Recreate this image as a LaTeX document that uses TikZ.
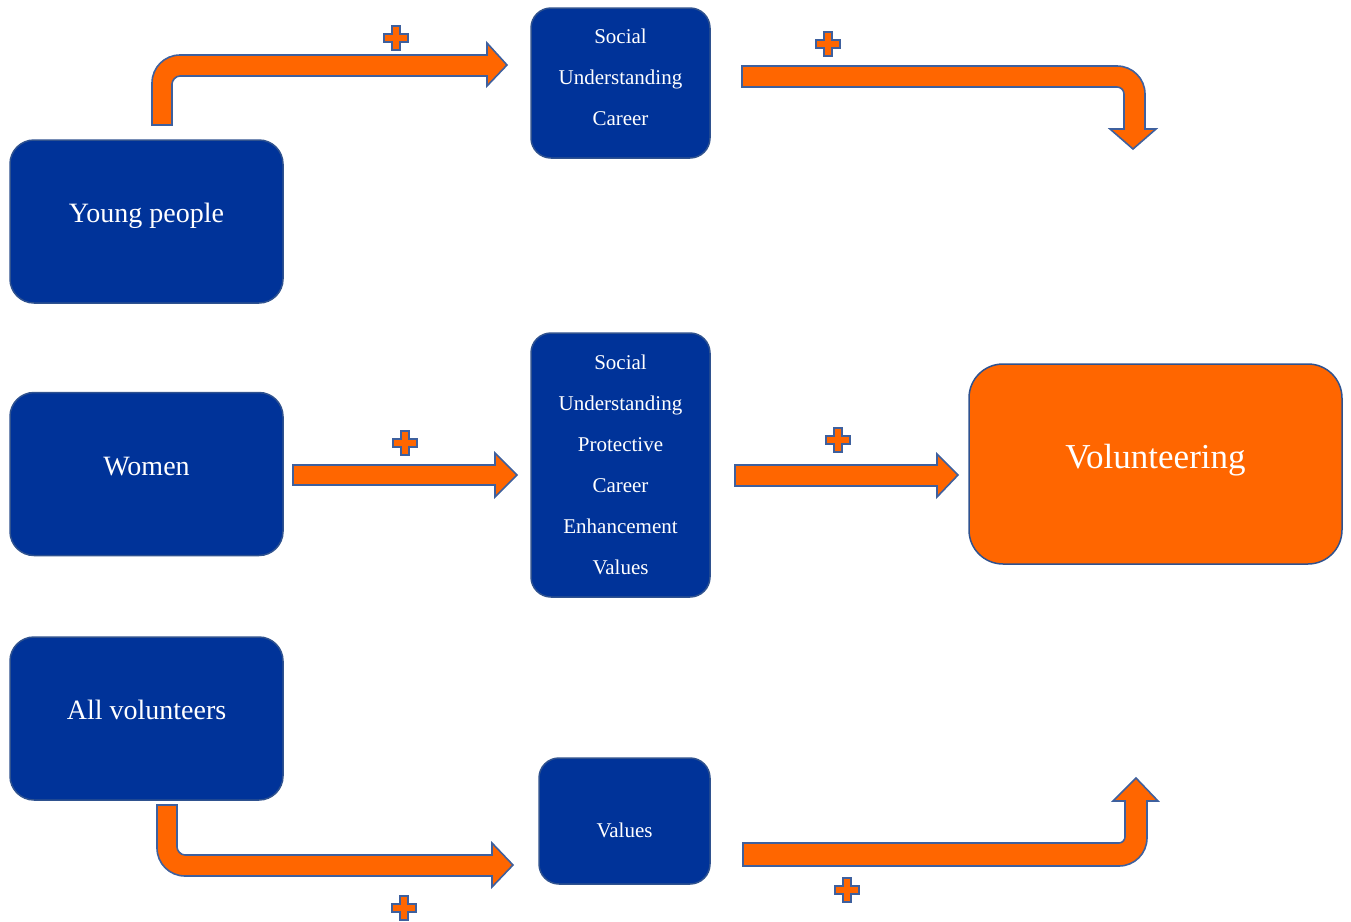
\documentclass[tikz,border=0pt]{standalone}
\usepackage{fontspec}
\setmainfont{Liberation Serif}
\definecolor{boxblue}{RGB}{0,51,153}
\definecolor{edgeblue}{RGB}{47,82,143}
\definecolor{arrowedge}{RGB}{62,96,158}
\definecolor{volorange}{RGB}{255,102,0}

\begin{document}
\begin{tikzpicture}[x=0.5pt,y=-0.5pt,
    group/.style={draw=edgeblue, line width=.75pt, fill=boxblue, rounded corners=12pt,
      text=white, font=\fontsize{14}{17}\selectfont, text height=6pt, text depth=4.6pt,
      minimum width=136.5pt, minimum height=81.5pt, inner sep=0pt},
    motive/.style={draw=edgeblue, line width=.75pt, fill=boxblue, rounded corners=10pt,
      text=white, align=center, font=\fontsize{10.5}{20.5}\selectfont,
      minimum width=89.5pt, inner sep=0pt},
    blockarrow/.style={draw=arrowedge, line width=.8pt, fill=volorange, line join=miter},
    plusmark/.style={draw=arrowedge, line width=.7pt, fill=volorange}]
    \useasboundingbox (0,0) rectangle (1351,922);
    % groups of volunteers
    \node[group] (young) at (146.5,221.5) {Young people};
    \node[group] (women) at (146.5,474) {Women};
    \node[group] (allvol) at (146.5,718.5) {All volunteers};
    % motives
    \node[motive, minimum height=75pt, text height=42pt, text depth=0pt] (motivestop)
      at (620.5,83) {Social\\Understanding\\Career};
    \node[motive, minimum height=132pt] (motivesmid) at (620.5,465)
      {Social\\Understanding\\Protective\\Career\\Enhancement\\Values};
    \node[motive, minimum width=85.5pt, minimum height=63pt, text height=16pt,
      text depth=0pt] (values) at (624.5,821) {Values};
    \node[draw=edgeblue, line width=.75pt, fill=volorange, rounded corners=17pt,
      text=white, font=\fontsize{17.5}{21}\selectfont, text height=8pt, text depth=4pt,
      minimum width=186.5pt, minimum height=100pt] (volunteer) at (1155.5,464)
      {Volunteering};
    % block arrows
    \draw[blockarrow] (152,125) -- (152,83) .. controls (152,67.5) and (164.5,55) .. (180,55)
      -- (487,55) -- (487,43) -- (507,65) -- (487,86) -- (487,76) -- (180,76)
      .. controls (175.6,76) and (172,80.4) .. (172,84) -- (172,125) -- cycle;
    \draw[blockarrow] (742,66) -- (1117,66) .. controls (1132.5,66) and (1145,78.5) .. (1145,94)
      -- (1145,129) -- (1156,129) -- (1133,149) -- (1110,129) -- (1124,129) -- (1124,94)
      .. controls (1124,90.1) and (1120.9,87) .. (1117,87) -- (742,87) -- cycle;
    \draw[blockarrow] (293,465) -- (495,465) -- (495,453) -- (517,475) -- (495,497)
      -- (495,485) -- (293,485) -- cycle;
    \draw[blockarrow] (735,465) -- (937,465) -- (937,454) -- (958,475) -- (937,497)
      -- (937,486) -- (735,486) -- cycle;
    \draw[blockarrow] (157,805) -- (157,848) .. controls (157,863.5) and (169.5,876) .. (185,876)
      -- (492,876) -- (492,887) -- (513,865) -- (492,843) -- (492,855) -- (185,855)
      .. controls (180.6,855) and (177,850.6) .. (177,847) -- (177,805) -- cycle;
    \draw[blockarrow] (743,843) -- (1119,843) .. controls (1122.3,843) and (1125,839.7) .. (1125,837)
      -- (1125,801) -- (1113,801) -- (1136,778) -- (1158,801) -- (1147,801) -- (1147,838)
      .. controls (1147,853.5) and (1134.5,866) .. (1119,866) -- (743,866) -- cycle;
    % plus signs
    \foreach \px/\py in {396/38, 828/44, 405/443, 838/440, 404/908, 847/890}
      \draw[plusmark, shift={(\px,\py)}] (-4,-12) -- (4,-12) -- (4,-4) -- (12,-4) -- (12,4)
        -- (4,4) -- (4,12) -- (-4,12) -- (-4,4) -- (-12,4) -- (-12,-4) -- (-4,-4) -- cycle;
\end{tikzpicture}
\end{document}
